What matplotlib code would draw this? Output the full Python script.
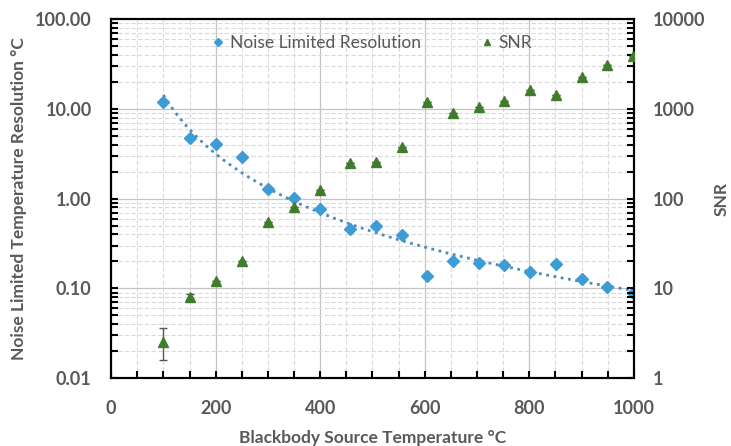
import numpy as np
import matplotlib.pyplot as plt
from matplotlib.ticker import FixedLocator, LogLocator, NullFormatter, FuncFormatter

plt.rcParams['font.family'] = ['Lato', 'DejaVu Sans']

# blackbody temperature (C)
temp = [100, 150, 200, 250, 300, 350, 400, 457, 506, 556,
        604, 655, 704, 752, 801, 851, 900, 949, 998]
# noise limited resolution (C)
resolution = [11.8, 4.8, 4.07, 2.93, 1.27, 1.03, 0.77, 0.46, 0.50, 0.39,
               0.136, 0.204, 0.194, 0.181, 0.153, 0.187, 0.128, 0.105, 0.089]
# signal to noise ratio
snr = [2.5, 8.0, 12.0, 20.3, 54.7, 80, 126, 247, 257, 378,
       1200, 903, 1054, 1230, 1618, 1435, 2275, 3050, 3870]
snr_err_lo = [0.9, 0.4, 0, 0, 0, 0, 0, 0, 0, 0, 0, 0, 0, 0, 0, 0, 0, 0, 0]
snr_err_hi = [1.1, 0.6, 0, 0, 0, 0, 0, 0, 0, 0, 0, 0, 0, 0, 0, 0, 0, 0, 0]

blue = '#3d9bd6'
green = '#3f7d2c'
gray = '#595959'

fig = plt.figure(figsize=(7.31, 4.46), dpi=100)
ax = fig.add_axes([0.152, 0.152, 0.715, 0.805])
ax2 = ax.twinx()

# power trendline (Excel style fit on logs)
b, a = np.polyfit(np.log10(temp), np.log10(resolution), 1)
xt = np.linspace(100, 1000, 200)
ax.plot(xt, 10 ** a * xt ** b, ':', color='#4a8cbc', lw=2.0, zorder=2)

h1, = ax.plot(temp, resolution, 'D', color=blue, ms=6, ls='none', zorder=3,
              label='Noise Limited Resolution')
ax2.errorbar(temp, snr, yerr=[snr_err_lo, snr_err_hi], fmt='none',
             ecolor='#555555', elinewidth=1, capsize=3, zorder=3)
h2, = ax2.plot(temp, snr, '^', color=green, ms=7, ls='none', zorder=4, label='SNR')

ax.set_yscale('log')
ax2.set_yscale('log')
ax.set_ylim(0.01, 100)
ax2.set_ylim(1, 10000)
ax.set_xlim(0, 1000)

ax.set_xticks([0, 200, 400, 600, 800, 1000])
ax.xaxis.set_minor_locator(FixedLocator(np.arange(0, 1001, 50)))
ax.yaxis.set_minor_locator(LogLocator(base=10, subs=np.arange(2, 10)))
ax.yaxis.set_minor_formatter(NullFormatter())
ax2.yaxis.set_minor_locator(LogLocator(base=10, subs=np.arange(2, 10)))
ax2.yaxis.set_minor_formatter(NullFormatter())
ax.yaxis.set_major_formatter(FuncFormatter(lambda v, p: f'{v:.2f}'))
ax2.yaxis.set_major_formatter(FuncFormatter(lambda v, p: f'{v:.0f}'))

ax.grid(True, which='major', color='#c4c4c4', lw=0.9, ls='-')
ax.grid(True, which='minor', color='#dadada', lw=0.8, ls=(0, (4, 2)))
ax.set_axisbelow(True)

for a_ in (ax, ax2):
    for s in a_.spines.values():
        s.set_linewidth(1.5)
        s.set_color('black')

ax.tick_params(axis='x', which='both', direction='in', length=5, width=1.5,
               pad=16, labelsize=13, labelcolor=gray)
ax.tick_params(axis='y', which='both', direction='in', length=5, width=1.5,
               pad=14, labelsize=13, labelcolor=gray)
ax2.tick_params(axis='y', which='both', direction='in', length=5, width=1.5,
                pad=14, labelsize=13, labelcolor=gray)
for lab in ax.get_xticklabels() + ax.get_yticklabels() + ax2.get_yticklabels():
    lab.set_fontweight('bold')

ax.set_xlabel('Blackbody Source Temperature °C', fontsize=12.5, fontweight='bold',
              color=gray, labelpad=9)
ax.set_ylabel('Noise Limited Temperature Resolution °C', fontsize=12.5,
              fontweight='bold', color=gray, labelpad=6)
ax2.set_ylabel('SNR', fontsize=12.5, fontweight='bold', color=gray, labelpad=6)

ax2.legend(handles=[h1, h2], loc='upper center', bbox_to_anchor=(0.5, 1.0),
           ncol=2, frameon=False, fontsize=12.5, labelcolor=gray,
           handlelength=0.6, handletextpad=0.4, columnspacing=3.5,
           markerscale=0.7)

fig.savefig('out.png', dpi=100)
